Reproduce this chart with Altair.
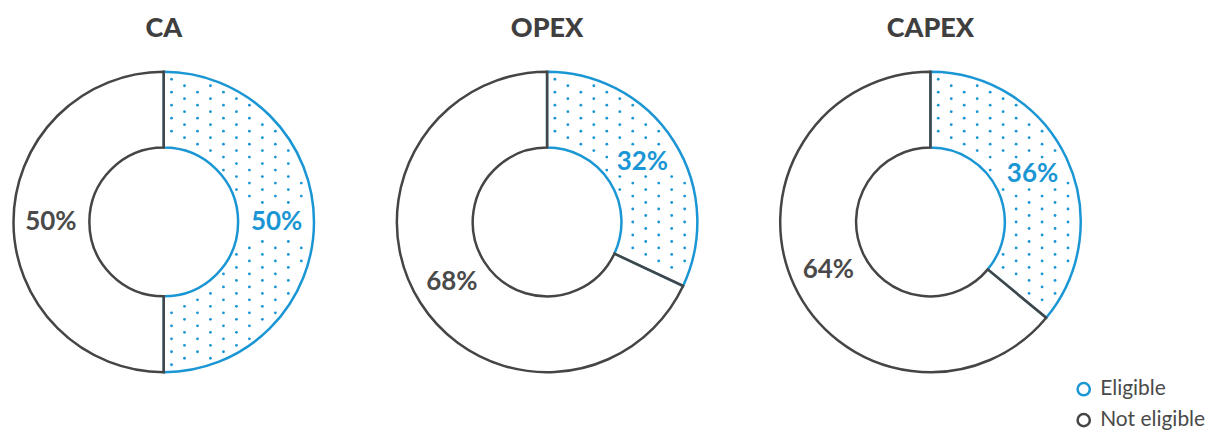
import math
import altair as alt
import pandas as pd

# ---- data ----
panels = ["CA", "OPEX", "CAPEX"]
categories = ["Eligible", "Not eligible"]
eligible = [50, 32, 36]
not_eligible = [50, 68, 64]

# ---- style ----
BLUE = "#1b96d4"
GRAY = "#454545"
TEXT = "#4a4a4a"
FONT = "Lato"

W, H = 308, 408
CX, CY = 154, 214
R_OUT, R_IN = 150.5, 74.5
R_LAB = 113

stroke_scale = alt.Scale(domain=categories, range=[BLUE, GRAY])


def panel(i):
    df = pd.DataFrame({
        "cat": categories,
        "value": [eligible[i], not_eligible[i]],
    })
    df["label"] = df["value"].astype(str) + "%"
    base = alt.Chart(df)

    arcs = base.mark_arc(
        outerRadius=R_OUT, innerRadius=R_IN, filled=False, strokeWidth=2.5
    ).encode(
        theta=alt.Theta("value:Q", stack=True),
        order=alt.Order("cat:N"),
        stroke=alt.Stroke(
            "cat:N", scale=stroke_scale,
            legend=alt.Legend(title=None, symbolSize=150, symbolStrokeWidth=2.5,
                              symbolType="circle"),
        ),
        x=alt.value(CX),
        y=alt.value(CY),
    )

    # dotted texture inside the "Eligible" slice (kept clear of its label)
    s = 13.0 / R_OUT
    a1 = 2 * math.pi * eligible[i] / 100.0
    am = a1 / 2
    lx = R_LAB / R_OUT * math.sin(am)
    ly = R_LAB / R_OUT * math.cos(am)
    bx = 33 / R_OUT
    by = 15 / R_OUT
    m = 4.5 / R_OUT
    m2 = 7.0 / R_OUT
    dots = alt.Chart(alt.sequence(0, 900, as_="n")).transform_calculate(
        ci="floor(datum.n / 30) - 15",
        rj="datum.n % 30 - 15",
    ).transform_calculate(
        px=f"(datum.ci + 0.6) * {s}",
        py=f"datum.rj * {s} + (abs(datum.ci) % 2) * {s / 2}",
    ).transform_calculate(
        rr="sqrt(datum.px * datum.px + datum.py * datum.py)",
        a0="atan2(datum.px, datum.py)",
    ).transform_calculate(
        ang="datum.a0 < 0 ? datum.a0 + 2 * PI : datum.a0",
    ).transform_filter(
        f"datum.rr > {R_IN / R_OUT + m} && datum.rr < {1 - m} && "
        f"datum.ang * datum.rr > {m2} && ({a1} - datum.ang) * datum.rr > {m2} && "
        f"!(abs(datum.px - {lx}) < {bx} && abs(datum.py - {ly}) < {by})"
    ).mark_circle(size=8, color=BLUE, opacity=1).encode(
        x=alt.X("px:Q", scale=alt.Scale(domain=[-1, 1], range=[CX - R_OUT, CX + R_OUT], nice=False, zero=False), axis=None),
        y=alt.Y("py:Q", scale=alt.Scale(domain=[-1, 1], range=[CY + R_OUT, CY - R_OUT], nice=False, zero=False), axis=None),
    )

    labels = base.mark_text(
        radius=R_LAB, fontSize=26, fontWeight="bold", font=FONT
    ).encode(
        theta=alt.Theta("value:Q", stack=True),
        order=alt.Order("cat:N"),
        text="label:N",
        color=alt.condition("datum.cat == 'Eligible'", alt.value(BLUE), alt.value(TEXT)),
        x=alt.value(CX),
        y=alt.value(CY),
    )

    title = alt.Chart(pd.DataFrame({"t": [panels[i]]})).mark_text(
        fontSize=27, fontWeight=900, font=FONT, color="#3f3f3f", baseline="middle"
    ).encode(text="t:N", x=alt.value(CX), y=alt.value(21))

    return alt.layer(arcs, dots, labels, title).properties(width=W, height=H)


chart = alt.hconcat(
    panel(0), panel(1), panel(2), spacing=76, bounds="flush"
).properties(
    padding=0
).configure_view(stroke=None).configure_legend(
    orient="none",
    legendX=1065,
    legendY=371,
    padding=0,
    labelFont=FONT,
    labelFontSize=21,
    labelColor=TEXT,
    symbolType="circle",
    symbolSize=150,
    symbolStrokeWidth=2.5,
    symbolFillColor="white",
    rowPadding=8,
    labelOffset=6,
)

chart.save("out.html", embed_options={"renderer": "svg", "actions": False})
